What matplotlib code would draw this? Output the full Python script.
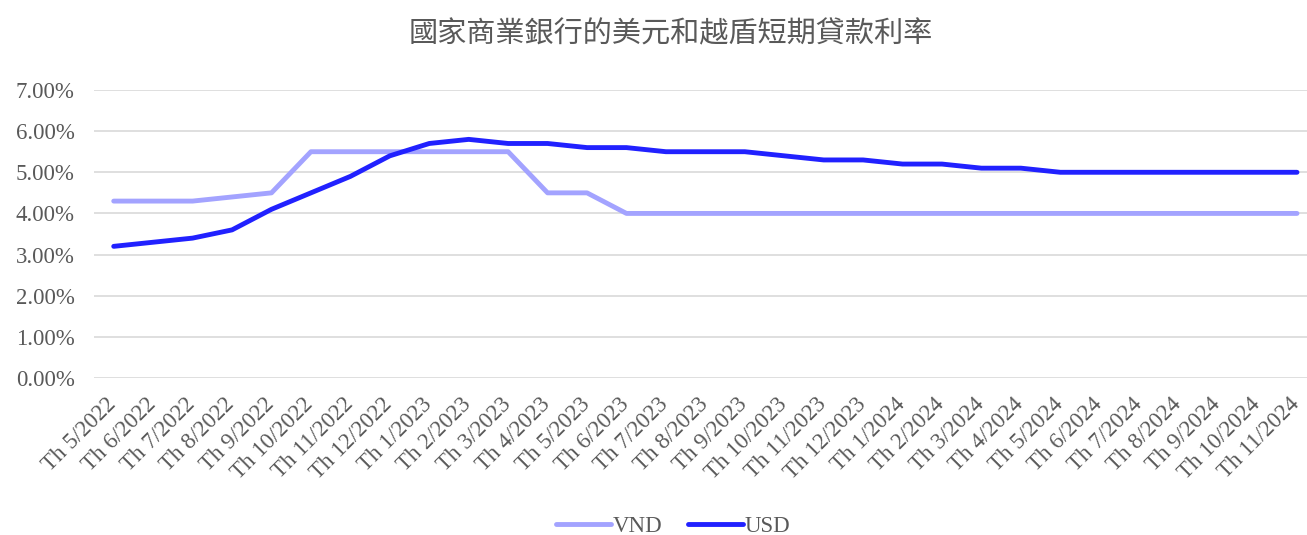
import numpy as np
import matplotlib
matplotlib.use('Agg')
import matplotlib.pyplot as plt
import matplotlib.transforms as mtrans
from matplotlib.ticker import FuncFormatter

months = ['5/2022', '6/2022', '7/2022', '8/2022', '9/2022', '10/2022', '11/2022', '12/2022',
          '1/2023', '2/2023', '3/2023', '4/2023', '5/2023', '6/2023', '7/2023', '8/2023',
          '9/2023', '10/2023', '11/2023', '12/2023', '1/2024', '2/2024', '3/2024', '4/2024',
          '5/2024', '6/2024', '7/2024', '8/2024', '9/2024', '10/2024', '11/2024']
labels = ['Th ' + m for m in months]

vnd = [4.3, 4.3, 4.3, 4.4, 4.5, 5.5, 5.5, 5.5, 5.5, 5.5, 5.5, 4.5, 4.5, 4.0, 4.0, 4.0,
       4.0, 4.0, 4.0, 4.0, 4.0, 4.0, 4.0, 4.0, 4.0, 4.0, 4.0, 4.0, 4.0, 4.0, 4.0]
usd = [3.2, 3.3, 3.4, 3.6, 4.1, 4.5, 4.9, 5.4, 5.7, 5.8, 5.7, 5.7, 5.6, 5.6, 5.5, 5.5,
       5.5, 5.4, 5.3, 5.3, 5.2, 5.2, 5.1, 5.1, 5.0, 5.0, 5.0, 5.0, 5.0, 5.0, 5.0]

title = '國家商業銀行的美元和越盾短期貸款利率'

serif = ['Liberation Serif', 'DejaVu Serif']
grey = '#595959'

fig = plt.figure(figsize=(13.07, 5.35), dpi=100)
ax = fig.add_axes([94/1307., 157/535., 1222.7/1307., 288/535.])

x = np.arange(len(labels))
ax.plot(x, vnd, color='#A3A3FF', lw=3.5, label='VND', solid_capstyle='round')
ax.plot(x, usd, color='#2121FF', lw=3.5, label='USD', solid_capstyle='round')

ax.set_xlim(-0.5, len(labels) - 0.5)
ax.set_ylim(0, 7)
ax.set_yticks(np.arange(0, 8, 1))
ax.yaxis.set_major_formatter(FuncFormatter(lambda v, p: '%.2f%%' % v))
ax.grid(axis='y', color='#D9D9D9', lw=1.2)
ax.set_axisbelow(True)
for s in ax.spines.values():
    s.set_visible(False)
ax.tick_params(length=0, pad=14)
ax.tick_params(axis='x', pad=5)

ax.set_xticks(x)
ax.set_xticklabels(labels, rotation=45, ha='right', rotation_mode='anchor')
shift = mtrans.ScaledTranslation(-8/100., -9/100., fig.dpi_scale_trans)
for t in ax.get_xticklabels():
    t.set_transform(t.get_transform() + shift)
for t in ax.get_xticklabels() + ax.get_yticklabels():
    t.set_family(serif)
    t.set_fontsize(16.5)
    t.set_color(grey)

fig.text(0.513, 0.935, title, ha='center', va='center', fontsize=21, color=grey,
         family=['Noto Sans CJK TC', 'DejaVu Sans'])

leg = fig.legend(loc='center', bbox_to_anchor=(0.515, 0.015), ncol=2, frameon=False,
                 prop={'family': serif, 'size': 16.5}, handlelength=2.4, columnspacing=1.1,
                 handletextpad=0.1)
for t in leg.get_texts():
    t.set_color(grey)

fig.savefig('out.png', dpi=100)
